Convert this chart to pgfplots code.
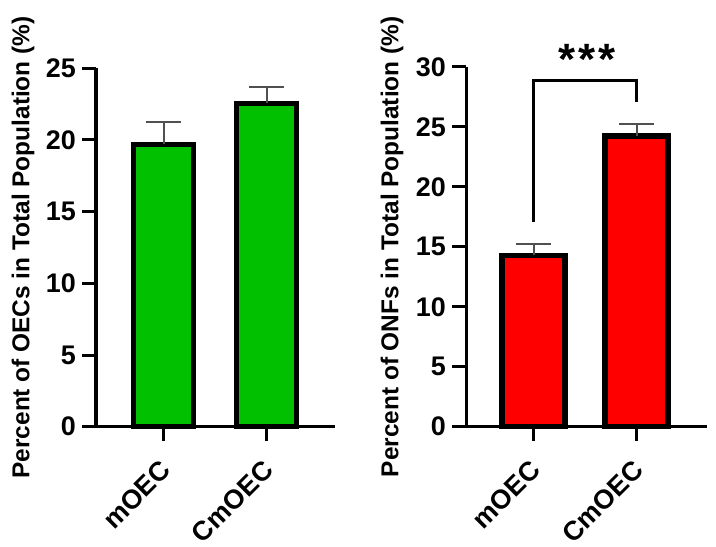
\documentclass[border=0pt]{standalone}
\usepackage{pgfplots}
\pgfplotsset{compat=1.18}
\usepackage{pgfplotstable}
\usepackage{fontspec}
\setmainfont{Liberation Sans}
\definecolor{oecgreen}{RGB}{0,192,0}
\definecolor{onfred}{RGB}{255,0,0}
\definecolor{errgray}{RGB}{80,80,80}
\newcommand{\tkfont}{\fontsize{27}{27}\selectfont\bfseries}

\pgfplotstableread{
x y e
0 19.70 1.57
1 22.57 1.14
}\oecdata
\pgfplotstableread{
x y e
0 14.28 0.92
1 24.23 0.98
}\onfdata

\pgfplotsset{
  panel/.style={
    scale only axis,
    clip=false,
    axis x line*=bottom,
    axis y line*=left,
    axis line style={line width=3bp, black},
    tick align=outside,
    major tick length=14bp,
    every tick/.style={line width=3bp, black},
    xtick={0,1},
    xticklabels={mOEC,CmOEC},
    ymin=0,
    /pgf/number format/assume math mode=true,
    tick label style={font=\tkfont},
    yticklabel style={anchor=east, inner sep=0pt},
    xticklabel style={rotate=45, anchor=north east, inner sep=0pt, xshift=-7bp},
    yticklabel shift=6bp,
    xticklabel shift=13bp,
    ylabel style={font=\bfseries\fontsize{24.5}{24.5}\selectfont, anchor=center},
  },
}

\begin{document}
\begin{tikzpicture}
\useasboundingbox (0,0) rectangle (716bp,547bp);

% left panel
\begin{axis}[panel,
  at={(96bp,120.3bp)}, anchor=south west,
  width=239bp, height=358.4bp,
  xmin=-0.663, xmax=1.668,
  ymax=25, ytick={0,5,...,25},
  ylabel={Percent of OECs in Total Population (\%)},
  ylabel style={at={(axis description cs:-0.305,0.5)}},
]
\addplot[ybar, bar width=60bp, fill=oecgreen, draw=black, line width=5bp,
  error bars/.cd, y dir=plus, y explicit,
  error bar style={line width=2bp, color=errgray},
  error mark options={rotate=90, mark size=17.5bp, line width=2bp, color=errgray}]
  table[x=x, y=y, y error=e] {\oecdata};
\end{axis}

% right panel
\begin{axis}[panel,
  at={(466bp,120.3bp)}, anchor=south west,
  width=241bp, height=359.7bp,
  xmin=-0.657, xmax=1.683,
  ymax=30, ytick={0,5,...,30},
  ylabel={Percent of ONFs in Total Population (\%)},
  ylabel style={at={(axis description cs:-0.307,0.5)}},
]
\addplot[ybar, bar width=63bp, fill=onfred, draw=black, line width=5.5bp,
  error bars/.cd, y dir=plus, y explicit,
  error bar style={line width=2bp, color=errgray},
  error mark options={rotate=90, mark size=17.5bp, line width=2bp, color=errgray}]
  table[x=x, y=y, y error=e] {\onfdata};
\addplot[black, line width=3.3bp, mark=none, sharp plot, line join=miter]
  coordinates {(0,17.05) (0,28.9) (1,28.9) (1,27.1)};
\node[font=\bfseries\fontsize{44}{44}\selectfont, inner sep=0pt] at (axis cs:0.52,30.6) {*\kern3bp*\kern3bp*};
\end{axis}
\end{tikzpicture}
\end{document}
